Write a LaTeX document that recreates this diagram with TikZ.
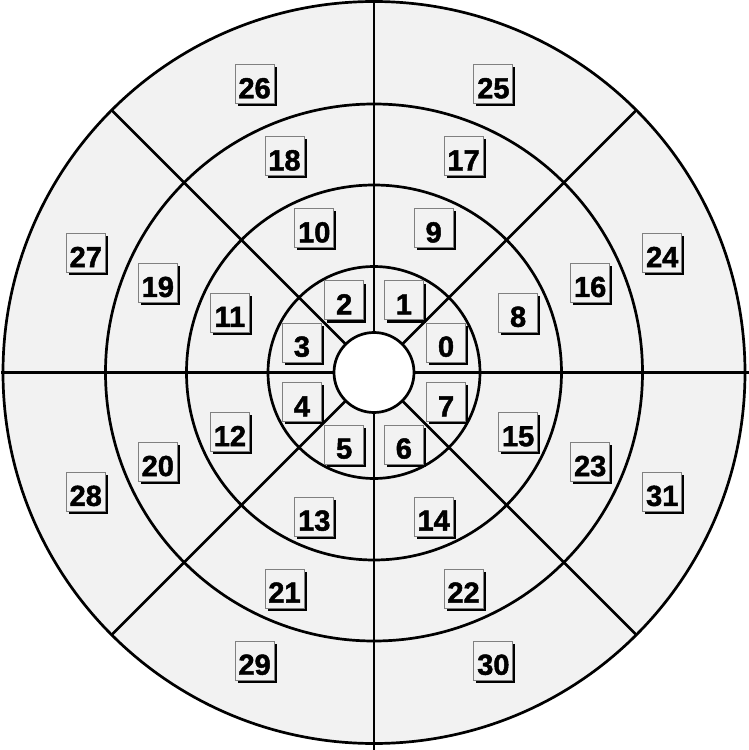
\documentclass[tikz,border=0pt]{standalone}
\usepackage{fontspec}
\newfontfamily\labfont{Liberation Sans Bold}[FakeBold=1.6]
\usetikzlibrary{shadows}
\definecolor{bg}{RGB}{242,242,242}
\definecolor{boxedge}{RGB}{128,128,128}
\tikzset{
  ringline/.style={line width=2.7pt, black},
  spoke/.style={line width=2.7pt, black},
  lab/.style={draw=boxedge, line width=0.9pt, fill=bg, minimum width=39pt, minimum height=39pt,
    inner sep=0pt, text height=28pt, text depth=0pt,
    font=\labfont\fontsize{29}{29}\selectfont,
    drop shadow={shadow xshift=2.6pt, shadow yshift=-2.6pt, fill=black, opacity=1}}
}
\begin{document}
\begin{tikzpicture}[x=1pt,y=1pt]
\useasboundingbox (-374,-377.5) rectangle (375,372.5);
\fill[white] (-374,-377.5) rectangle (375,372.5);
% disc
\fill[bg] (0,0) circle (371);
\foreach \r in {106,187.5,268.5,371} \draw[ringline] (0,0) circle (\r);
\filldraw[ringline, fill=white] (0,0) circle (40);
% spokes
\foreach \a in {45,135,225,315} \draw[spoke] (\a:40) -- (\a:371);
\draw[spoke] (40,0) -- (375,0);
\draw[spoke] (-40,0) -- (-372.5,0);
\draw[spoke] (0,40) -- (0,371);
\draw[spoke] (0,-40) -- (0,-377.5);
% labels
\foreach \k in {0,1,2,3}{
  \foreach \j in {0,...,7}{
    \pgfmathtruncatemacro{\n}{8*\k+\j}
    \pgfmathsetmacro{\ang}{22.5+45*\j}
    \pgfmathsetmacro{\rad}{78*(\k+1)}
    \node[lab] (l\n) at (\ang:\rad) {\n};
  }
}
\end{tikzpicture}
\end{document}
